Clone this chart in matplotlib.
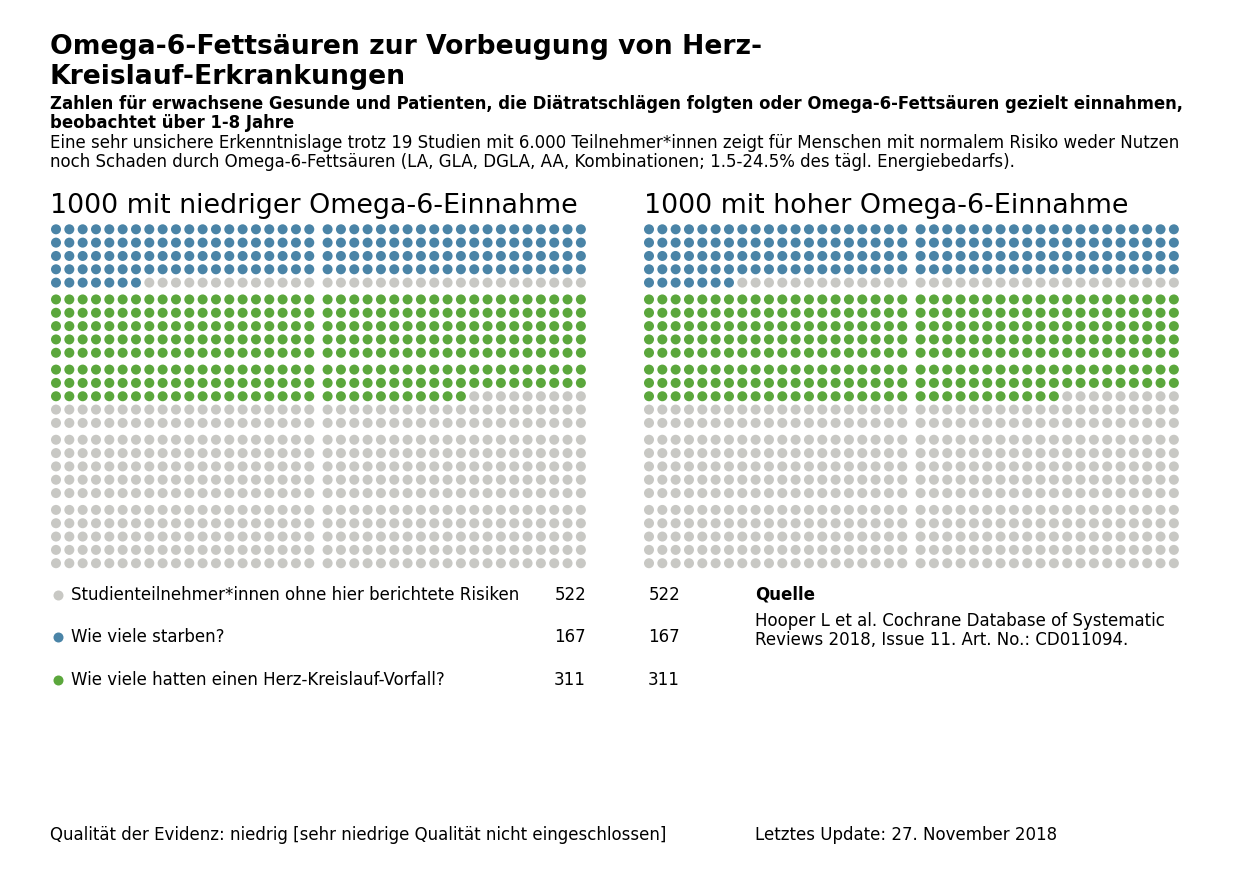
import numpy as np
import matplotlib
matplotlib.use("Agg")
import matplotlib.pyplot as plt

plt.rcParams['font.family'] = ['DejaVu Sans']

# data
title = "Omega-6-Fettsäuren zur Vorbeugung von Herz-\nKreislauf-Erkrankungen"
subtitle = ["Zahlen für erwachsene Gesunde und Patienten, die Diätratschlägen folgten oder Omega-6-Fettsäuren gezielt einnahmen,",
            "beobachtet über 1-8 Jahre"]
body = ["Eine sehr unsichere Erkenntnislage trotz 19 Studien mit 6.000 Teilnehmer*innen zeigt für Menschen mit normalem Risiko weder Nutzen",
        "noch Schaden durch Omega-6-Fettsäuren (LA, GLA, DGLA, AA, Kombinationen; 1.5-24.5% des tägl. Energiebedarfs)."]
panel_titles = ["1000 mit niedriger Omega-6-Einnahme", "1000 mit hoher Omega-6-Einnahme"]
categories = ["Studienteilnehmer*innen ohne hier berichtete Risiken",
              "Wie viele starben?",
              "Wie viele hatten einen Herz-Kreislauf-Vorfall?"]
low_counts = [522, 167, 311]
high_counts = [522, 167, 311]
colors = ["#c8c8c4", "#4a84a7", "#5ba73c"]
source_title = "Quelle"
source_text = "Hooper L et al. Cochrane Database of Systematic\nReviews 2018, Issue 11. Art. No.: CD011094."
footer_left = "Qualität der Evidenz: niedrig [sehr niedrige Qualität nicht eingeschlossen]"
footer_right = "Letztes Update: 27. November 2018"

W, H = 1240, 874
fig = plt.figure(figsize=(W / 100, H / 100), dpi=100)


def fx(px):
    return px / W


def fy(py):
    return 1 - py / H


def waffle_colors(counts):
    # dead first, padded to full 200 block rows, then events, rest neutral
    neutral, dead, event = counts
    cells = [1] * dead
    pad = (-len(cells)) % 200
    cells += [0] * pad
    cells += [2] * event
    cells += [0] * (1000 - len(cells))
    return cells


ncol, nrow = 40, 25
sp = 13.33
cgap = 5 / sp
rgap = 3.5 / sp


def draw_waffle(left_px, counts):
    width_units = ncol - 1 + cgap + 1
    height_units = nrow - 1 + 4 * rgap + 1
    top_px = 229.3 - sp / 2
    ax = fig.add_axes([fx(left_px - sp / 2), fy(top_px + height_units * sp),
                       width_units * sp / W, height_units * sp / H])
    cells = waffle_colors(counts)
    xs, ys, cs = [], [], []
    for i, c in enumerate(cells):
        r, col = divmod(i, ncol)
        xs.append(col + (cgap if col >= 20 else 0))
        ys.append(r + (r // 5) * rgap)
        cs.append(colors[c])
    ax.scatter(xs, ys, s=52, c=cs, linewidths=0)
    ax.set_xlim(-0.5, width_units - 0.5)
    ax.set_ylim(height_units - 0.5, -0.5)
    ax.axis('off')


draw_waffle(56, low_counts)
draw_waffle(649, high_counts)

# texts
fig.text(fx(50), fy(62), title, fontsize=19.2, fontweight='bold', va='center', linespacing=1.2)
fig.text(fx(50), fy(104), subtitle[0], fontsize=11.9, fontweight='bold', va='center')
fig.text(fx(50), fy(123), subtitle[1], fontsize=11.9, fontweight='bold', va='center')
fig.text(fx(50), fy(143), body[0], fontsize=12, va='center')
fig.text(fx(50), fy(162), body[1], fontsize=12, va='center')
fig.text(fx(50), fy(206), panel_titles[0], fontsize=19.4, va='center')
fig.text(fx(644), fy(206), panel_titles[1], fontsize=19.4, va='center')

# legend
leg_y = [595, 637, 680]
lax = fig.add_axes([0, 0, 1, 1], facecolor='none')
lax.set_xlim(0, W)
lax.set_ylim(H, 0)
lax.axis('off')
for i, cat in enumerate(categories):
    lax.scatter([58], [leg_y[i]], s=52, c=colors[i], linewidths=0)
    lax.text(71, leg_y[i], cat, fontsize=12, va='center')
    lax.text(586, leg_y[i], str(low_counts[i]), fontsize=12, va='center', ha='right')
    lax.text(680, leg_y[i], str(high_counts[i]), fontsize=12, va='center', ha='right')

lax.text(755, 595, source_title, fontsize=12, fontweight='bold', va='center')
lax.text(755, 630.5, source_text, fontsize=12, va='center', linespacing=1.08)

lax.text(50, 835, footer_left, fontsize=12, va='center')
lax.text(755, 835, footer_right, fontsize=12, va='center')

fig.savefig("out.png", dpi=100)
